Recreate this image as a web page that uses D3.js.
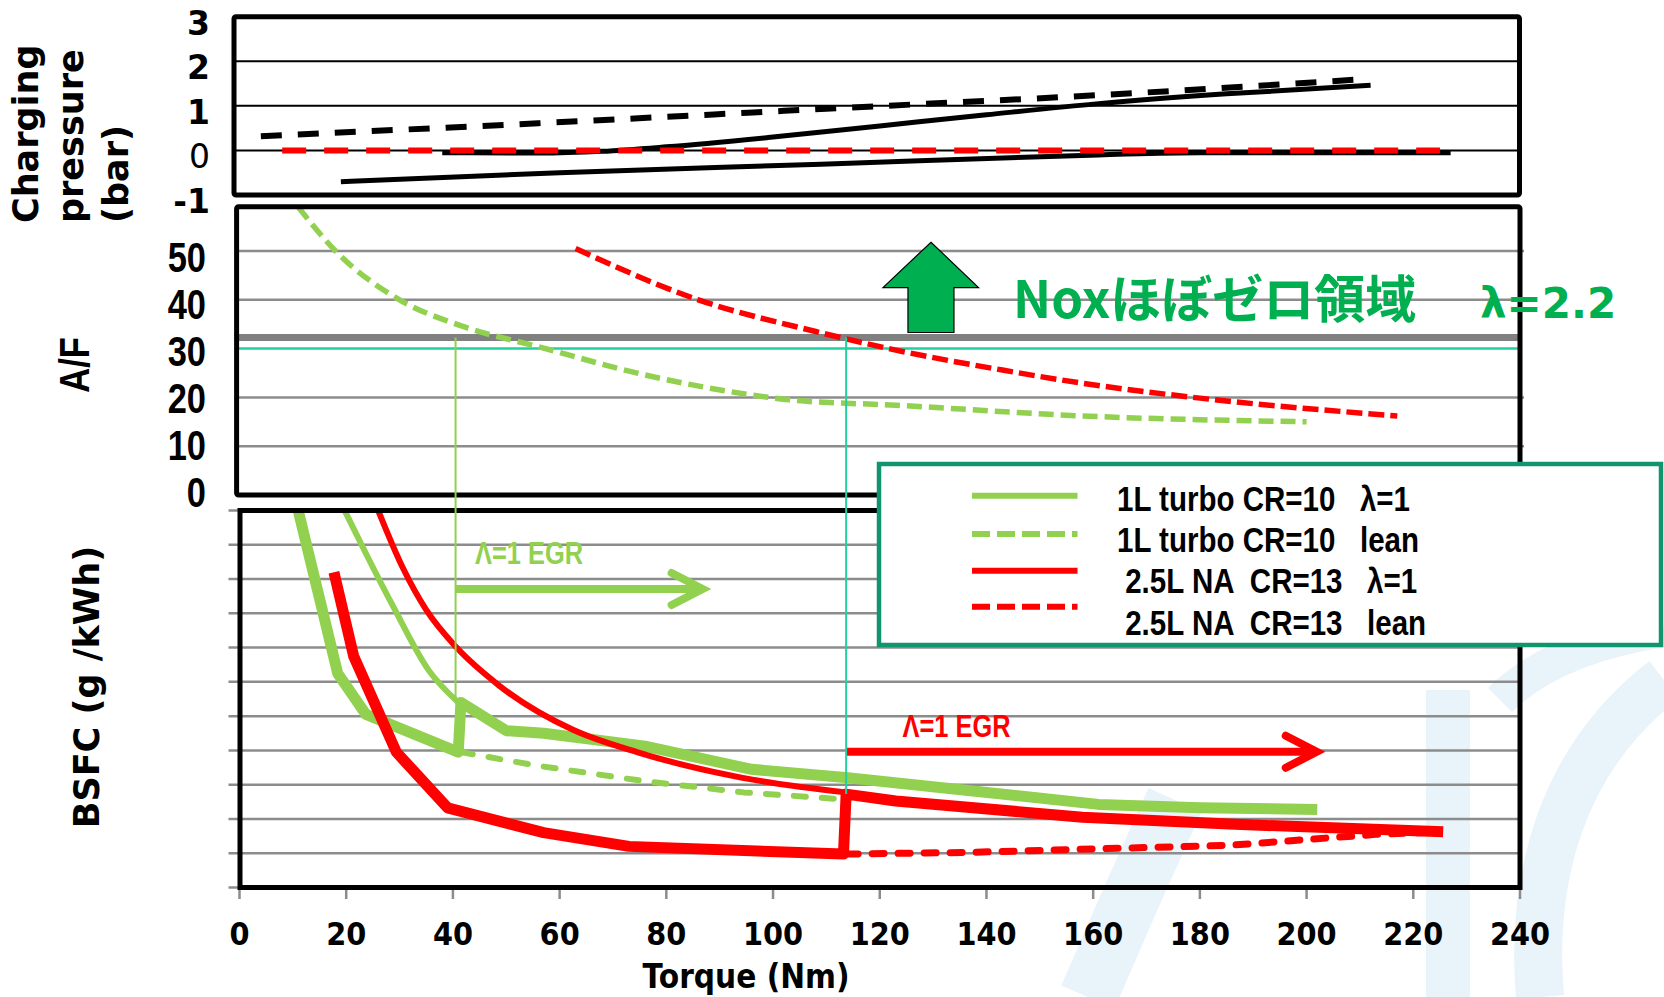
<!DOCTYPE html>
<html>
<head>
<meta charset="utf-8">
<script src="https://cdn.jsdelivr.net/npm/d3@7/dist/d3.min.js"></script>
<style>
  body { margin: 0; background: #fff; }
  svg { display: block; }
  text { white-space: pre; }
</style>
</head>
<body>
<div id="chart"></div>
<script>
// ---- data (torque Nm, value) ----
const torqueTicks = [0, 20, 40, 60, 80, 100, 120, 140, 160, 180, 200, 220, 240];
const pressureTicks = [3, 2, 1, 0, -1];
const afTicks = [50, 40, 30, 20, 10, 0];
const bsfcGrid = [220, 240, 260, 280, 300, 320, 340, 360, 380, 400]; // no labels in the original

// charging pressure (bar)
const pTurboLean = [[4, 0.32], [56, 0.61], [109, 0.93], [161, 1.24], [211, 1.6]];
const pTurbo = [[38, -0.05], [56, -0.06], [68, -0.02], [80, 0.08], [100, 0.3], [120, 0.55], [140, 0.8], [161, 1.05], [185, 1.27], [212, 1.46]];
const pNA = [[19, -0.7], [60, -0.5], [109, -0.31], [161, -0.1], [180, -0.05], [227, -0.05]];
const pNALean = [[8, 0], [60, 0], [120, 0], [180, 0], [225, 0]];

// air / fuel ratio
const afTurboLean = [[11, 59], [18, 50], [30, 40], [42, 34.5], [56, 30.4], [76, 24.6], [96, 20.5], [103, 19.5], [123, 18.4], [158, 16.2], [200, 15]];
const afNALean = [[63, 50.5], [86, 40], [108, 33.5], [123, 29.7], [143, 25.6], [158, 22.9], [178, 20.1], [217, 16.2]];
const afLambda22 = 32.3;
const afRef = 30;

// BSFC (unlabelled scale)
const bTurbo = [[11, 420], [18.4, 325], [23.7, 301], [41, 279], [41.5, 308], [50, 291.5], [57, 290], [76, 282.5], [96, 269], [114, 264], [137, 256.5], [161, 248.5], [180, 246.5], [202, 245.5]];
const bTurboLow = [[19.7, 420], [24, 393], [28.8, 364], [35.4, 327], [41, 308]];
const bTurboLean = [[41.5, 279], [56, 271], [76, 262], [94.5, 255.5], [113, 251.5]];
const bNALow = [[26, 420], [30.7, 386], [35, 362], [40.7, 340], [48.6, 318], [62.5, 292], [74.5, 279], [94.3, 264], [113.7, 255.5]];
const bNA = [[17.7, 384], [21.4, 335], [29.4, 279], [39, 246.5], [57, 232], [73, 224], [113.2, 219.5], [113.7, 254.5], [123, 250.5], [158, 241], [185.5, 237], [225.6, 232.5]];
const bNALean = [[113.7, 219.5], [137, 220.5], [157.5, 222.3], [185.5, 224.6], [213, 231], [225.6, 232.5]];

const crossTurbo = 40.5;   // lean turbo reaches lambda 2.2
const crossNA = 113.7;     // lean NA reaches lambda 2.2

const legendNames = ["1L turbo CR=10   \u03bb=1", "1L turbo CR=10   lean", " 2.5L NA  CR=13   \u03bb=1", " 2.5L NA  CR=13   lean"];

// ---- colours ----
const lgreen = "#92d050", red = "#ff0000", dgreen = "#00b050", teal = "#22d0a0";

// ---- scales ----
const W = 1664, H = 997;
const x = d3.scaleLinear().domain([0, 240]).range([239.5, 1520]);
const yP = d3.scaleLinear().domain([-1, 3]).range([195, 16.7]);
const yAF = d3.scaleLinear().domain([0, 50]).range([495, 251]);
const yAFlab = d3.scaleLinear().domain([0, 50]).range([507, 271.7]);
const yB = d3.scaleLinear().domain([200, 420]).range([887.5, 510.5]);

const svg = d3.select("#chart").append("svg")
    .attr("width", W).attr("height", H)
    .style("font-family", "'DejaVu Sans', Verdana, sans-serif");

// faint watermark behind everything
const wm = svg.append("g").attr("fill", "none").attr("stroke", "#e8f3fa").attr("stroke-linecap", "butt");
wm.append("path").attr("d", "M1088,997 L1130,900 L1175,800").attr("stroke-width", 58);
wm.append("path").attr("d", "M1448,997 L1448,690").attr("stroke-width", 44);
wm.append("path").attr("d", "M1540,997 C1530,880 1560,760 1664,680").attr("stroke-width", 48);
wm.append("path").attr("d", "M1500,700 C1540,660 1600,640 1664,630").attr("stroke-width", 34);

// helper for the narrow bold face (Arial Narrow look)
const narrow = (parent, px, py, str, size, opt = {}) => {
    const g = parent.append("g")
        .attr("transform", `translate(${px},${py}) rotate(${opt.rotate || 0}) scale(${opt.sx || 0.82},1)`);
    g.append("text")
        .attr("text-anchor", opt.anchor || "start")
        .style("font-family", "'Liberation Sans', Arial, sans-serif")
        .style("font-weight", "bold")
        .style("font-size", size + "px")
        .attr("fill", opt.fill || "#000")
        .text(str);
    return g;
};

const line = (yScale, curve) => d3.line()
    .x(d => x(d[0]))
    .y(d => yScale(d[1]))
    .curve(curve || d3.curveLinear);

const drawLine = (data, gen, color, width, dash, cap) => {
    svg.append("path")
        .datum(data)
        .attr("d", gen)
        .attr("fill", "none")
        .attr("stroke", color)
        .attr("stroke-width", width)
        .attr("stroke-dasharray", dash || null)
        .attr("stroke-linecap", cap || "butt")
        .attr("stroke-linejoin", "round");
};

// ================= panel 1 : charging pressure =================
const f1 = { x0: 234, x1: 1519.5 };
svg.append("g").selectAll("line").data([2, 1, 0]).join("line")
    .attr("x1", f1.x0).attr("x2", f1.x1)
    .attr("y1", d => yP(d)).attr("y2", d => yP(d))
    .attr("stroke", "#000").attr("stroke-width", 2);

const lp = line(yP, d3.curveMonotoneX);
drawLine(pTurboLean, lp, "#000", 6, "21,16");
drawLine(pNA, lp, "#000", 5);
drawLine(pTurbo, lp, "#000", 5);
drawLine(pNALean, lp, red, 6, "24,18");

svg.append("rect")
    .attr("x", f1.x0).attr("y", yP(3))
    .attr("width", f1.x1 - f1.x0).attr("height", yP(-1) - yP(3))
    .attr("fill", "none").attr("stroke", "#000").attr("stroke-width", 5).attr("rx", 2);

svg.append("g").selectAll("text").data(pressureTicks).join("text")
    .attr("x", 210).attr("y", d => yP(d) + 18)
    .attr("text-anchor", "end")
    .style("font-size", "33px")
    .style("font-weight", d => d === 0 ? "normal" : "bold")
    .text(d => d);

["Charging", "pressure", "(bar)"].forEach((s, i) => {
    svg.append("text")
        .attr("transform", `translate(${38 + i * 45},223) rotate(-90)`)
        .style("font-size", "35px").style("font-weight", "bold")
        .text(s);
});

// ================= panel 2 : A/F =================
const f2 = { x0: 236.6, x1: 1520, y0: 206.7 };
svg.append("g").selectAll("line").data([50, 40, 20, 10]).join("line")
    .attr("x1", f2.x0).attr("x2", f2.x1 + 4)
    .attr("y1", d => yAF(d)).attr("y2", d => yAF(d))
    .attr("stroke", "#8c8c8c").attr("stroke-width", 2.5);

svg.append("line")
    .attr("x1", f2.x0).attr("x2", f2.x1)
    .attr("y1", yAF(afRef)).attr("y2", yAF(afRef))
    .attr("stroke", teal).attr("stroke-width", 2.5);
svg.append("line")
    .attr("x1", f2.x0 - 2).attr("x2", f2.x1)
    .attr("y1", yAF(afLambda22)).attr("y2", yAF(afLambda22))
    .attr("stroke", "#808080").attr("stroke-width", 7);

const la = line(yAF, d3.curveMonotoneX);
drawLine(afTurboLean, la, lgreen, 5.5, "15,7");
drawLine(afNALean, la, red, 5.5, "16,6");

svg.append("rect")
    .attr("x", f2.x0).attr("y", f2.y0)
    .attr("width", f2.x1 - f2.x0).attr("height", yAF(0) - f2.y0)
    .attr("fill", "none").attr("stroke", "#000").attr("stroke-width", 5).attr("rx", 2);

afTicks.forEach(v => narrow(svg, 206, yAFlab(v), String(v), 42, { anchor: "end" }));
narrow(svg, 89, 365, "A/F", 42, { anchor: "middle", rotate: -90 });

// up arrow : NOx almost zero above lambda 2.2
const ax = x(129.6), aBase = yAF(33.3), aTip = yAF(51.8), aNeck = yAF(42.5);
svg.append("path")
    .attr("d", `M${ax},${aTip} L${ax + 47.6},${aNeck} L${ax + 23},${aNeck} L${ax + 23},${aBase} L${ax - 23},${aBase} L${ax - 23},${aNeck} L${ax - 48},${aNeck} Z`)
    .attr("fill", dgreen).attr("stroke", "#000").attr("stroke-width", 1.2);

svg.append("text")
    .attr("x", 1013).attr("y", 318)
    .style("font-family", "'Noto Sans CJK JP', 'Noto Sans', sans-serif")
    .style("font-size", "51px").style("font-weight", "bold")
    .attr("fill", dgreen)
    .text("Noxほぼゼロ領域");
svg.append("text")
    .attr("x", 1480).attr("y", 318)
    .style("font-size", "42px").style("font-weight", "bold")
    .attr("fill", dgreen)
    .text("\u03bb=2.2");

// ================= panel 3 : BSFC =================
const f3 = { x0: 240, x1: 1520 };
svg.append("g").selectAll("line").data(bsfcGrid).join("line")
    .attr("x1", 228.5).attr("x2", f3.x1)
    .attr("y1", d => yB(d)).attr("y2", d => yB(d))
    .attr("stroke", "#8c8c8c").attr("stroke-width", 2.5);
svg.append("g").selectAll("line").data([200, 420]).join("line")
    .attr("x1", 228.5).attr("x2", f3.x0)
    .attr("y1", d => yB(d)).attr("y2", d => yB(d))
    .attr("stroke", "#8c8c8c").attr("stroke-width", 2.5);

// x axis ticks
svg.append("g").selectAll("line").data(torqueTicks).join("line")
    .attr("x1", d => x(d)).attr("x2", d => x(d))
    .attr("y1", yB(200)).attr("y2", 899)
    .attr("stroke", "#8c8c8c").attr("stroke-width", 2.5);

const lb = line(yB);
drawLine(bTurboLean, lb, lgreen, 6, "12,16", "round");
drawLine(bTurboLow, line(yB, d3.curveMonotoneX), lgreen, 6);
drawLine(bTurbo, lb, lgreen, 11);
drawLine(bNALow, line(yB, d3.curveMonotoneX), red, 6);
drawLine(bNA, lb, red, 11);
drawLine(bNALean, lb, red, 7, "12,14", "round");

svg.append("rect")
    .attr("x", f3.x0).attr("y", yB(420))
    .attr("width", f3.x1 - f3.x0).attr("height", yB(200) - yB(420))
    .attr("fill", "none").attr("stroke", "#000").attr("stroke-width", 5);

// EGR arrows
const arrow = (t0, t1, b, color) => {
    const y = yB(b);
    svg.append("line")
        .attr("x1", x(t0)).attr("x2", x(t1) - 3)
        .attr("y1", y).attr("y2", y)
        .attr("stroke", color).attr("stroke-width", 8);
    svg.append("path")
        .attr("d", `M${x(t1) - 31},${y - 16} L${x(t1)},${y} L${x(t1) - 31},${y + 16}`)
        .attr("fill", "none").attr("stroke", color).attr("stroke-width", 8)
        .attr("stroke-linecap", "round").attr("stroke-linejoin", "miter");
};
arrow(crossTurbo, 86.8, 374.2, lgreen);
arrow(crossNA, 201.9, 279.2, red);
narrow(svg, 475, 564, "\u039b=1 EGR", 31, { fill: lgreen });
narrow(svg, 902.5, 737.3, "\u039b=1 EGR", 31, { fill: red });

// vertical markers where lean A/F crosses lambda 2.2
svg.append("line")
    .attr("x1", x(crossTurbo)).attr("x2", x(crossTurbo))
    .attr("y1", yAF(afLambda22)).attr("y2", yB(308))
    .attr("stroke", lgreen).attr("stroke-width", 2);
svg.append("line")
    .attr("x1", x(crossNA)).attr("x2", x(crossNA))
    .attr("y1", yAF(afLambda22)).attr("y2", yB(254.5))
    .attr("stroke", teal).attr("stroke-width", 2);

// x tick labels and title
torqueTicks.forEach(t => {
    svg.append("text")
        .attr("transform", `translate(${x(t)},945) scale(0.9,1)`)
        .attr("text-anchor", "middle")
        .style("font-size", "32px").style("font-weight", "bold")
        .text(t);
});
svg.append("text")
    .attr("transform", "translate(746,988) scale(0.9,1)")
    .attr("text-anchor", "middle")
    .style("font-size", "33px").style("font-weight", "bold")
    .text("Torque (Nm)");

svg.append("text")
    .attr("transform", "translate(99,687) rotate(-90)")
    .attr("text-anchor", "middle")
    .style("font-size", "35px").style("font-weight", "bold")
    .text("BSFC (g /kWh)");

// ================= legend =================
const leg = svg.append("g");
leg.append("rect")
    .attr("x", 879).attr("y", 464).attr("width", 782).attr("height", 181)
    .attr("fill", "#fff").attr("stroke", "#10966f").attr("stroke-width", 4.5);

const legStyle = [
    { color: lgreen, dash: null },
    { color: lgreen, dash: "18,7" },
    { color: red, dash: null },
    { color: red, dash: "18,7" }
];
const legY = [495.7, 534, 570.7, 606.7];
const legBase = [510.5, 551.5, 592.7, 635];
legendNames.forEach((name, i) => {
    leg.append("line")
        .attr("x1", 972).attr("x2", 1077.5)
        .attr("y1", legY[i]).attr("y2", legY[i])
        .attr("stroke", legStyle[i].color).attr("stroke-width", 6)
        .attr("stroke-dasharray", legStyle[i].dash);
    narrow(leg, 1117, legBase[i], name, 36);
});
</script>
</body>
</html>
